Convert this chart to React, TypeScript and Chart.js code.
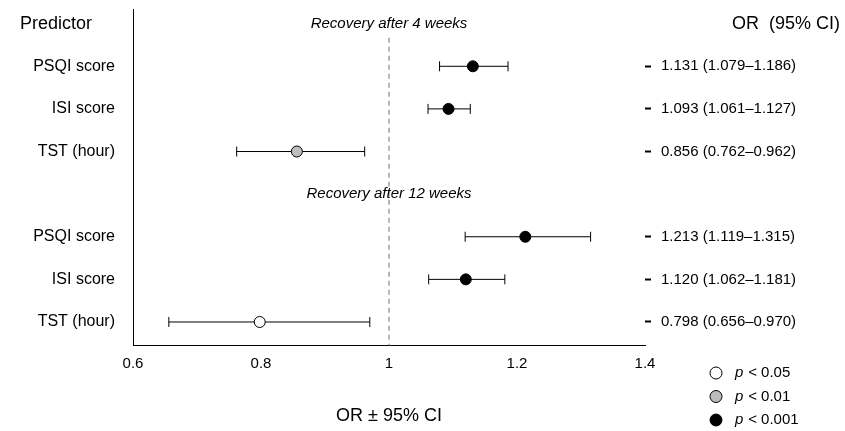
import { useEffect, useRef } from 'react';
import Chart from 'chart.js/auto';

const rowLabels = ['', 'PSQI score', 'ISI score', 'TST (hour)', '', 'PSQI score', 'ISI score', 'TST (hour)'];
const headings = ['Recovery after 4 weeks', '', '', '', 'Recovery after 12 weeks', '', '', ''];
const orValues = [null, 1.131, 1.093, 0.856, null, 1.213, 1.120, 0.798];
const ciLow = [null, 1.079, 1.061, 0.762, null, 1.119, 1.062, 0.656];
const ciHigh = [null, 1.186, 1.127, 0.962, null, 1.315, 1.181, 0.970];
const pClass = [0, 2, 2, 1, 0, 2, 2, 0];
const pColors = ['#ffffff', '#bdbdbd', '#000000'];
const legendLabels = ['< 0.05', '< 0.01', '< 0.001'];

const FONT = '"Liberation Sans", Arial, sans-serif';
const SHIFT = 18;

function fmt(i: number) {
  const v = orValues[i];
  if (v == null) return '';
  return `${v.toFixed(3)} (${ciLow[i]!.toFixed(3)}–${ciHigh[i]!.toFixed(3)})`;
}

const rowTicks = (s: any) => {
  s.ticks = rowLabels.map((_, i) => ({ value: i }));
};

export default function App() {
  const chartRef = useRef<HTMLCanvasElement | null>(null);

  useEffect(() => {
    let chart: Chart | null = null;
    const ctx = chartRef.current?.getContext('2d');
    if (!ctx) return;

    const rows = orValues.map((v, i) => i).filter((i) => orValues[i] != null);

    const extras = {
      id: 'extras',
      beforeDatasetsDraw(c: any) {
        const g = c.ctx;
        const x = c.scales.x;
        const y = c.scales.y;
        const area = c.chartArea;
        g.save();
        g.strokeStyle = '#888';
        g.lineWidth = 1.2;
        g.setLineDash([5, 4]);
        g.beginPath();
        g.moveTo(x.getPixelForValue(1), y.getPixelForValue(0) + 14);
        g.lineTo(x.getPixelForValue(1), area.bottom);
        g.stroke();
        g.setLineDash([]);
        g.strokeStyle = '#000';
        g.lineWidth = 1;
        rows.forEach((i) => {
          const py = y.getPixelForValue(i);
          const a = x.getPixelForValue(ciLow[i]!);
          const b = x.getPixelForValue(ciHigh[i]!);
          g.beginPath();
          g.moveTo(a, py); g.lineTo(b, py);
          g.moveTo(a, py - 5); g.lineTo(a, py + 5);
          g.moveTo(b, py - 5); g.lineTo(b, py + 5);
          g.stroke();
        });
        g.fillStyle = '#000';
        g.font = `italic 15px ${FONT}`;
        g.textAlign = 'center';
        g.textBaseline = 'middle';
        headings.forEach((h, i) => {
          if (h) g.fillText(h, x.getPixelForValue(1), y.getPixelForValue(i));
        });
        g.font = `18px ${FONT}`;
        g.textAlign = 'left';
        g.fillText('Predictor', 20, y.getPixelForValue(0));
        g.fillText('OR  (95% CI)', 732, y.getPixelForValue(0));
        legendLabels.forEach((l, i) => {
          const ly = 373 + SHIFT + i * 23.5;
          g.beginPath();
          g.arc(716, ly, 6, 0, Math.PI * 2);
          g.fillStyle = pColors[i];
          g.fill();
          g.strokeStyle = '#000';
          g.stroke();
          g.fillStyle = '#000';
          g.font = `italic 15px ${FONT}`;
          g.fillText('p', 735, ly);
          g.font = `15px ${FONT}`;
          g.fillText(' ' + l, 744, ly);
        });
        g.restore();
      },
    };

    chart = new Chart(ctx, {
      type: 'scatter',
      data: {
        datasets: [
          {
            data: rows.map((i) => ({ x: orValues[i]!, y: i })),
            backgroundColor: rows.map((i) => pColors[pClass[i]]),
            borderColor: '#000',
            borderWidth: 1,
            pointRadius: 5.5,
          },
        ],
      },
      options: {
        animation: false,
        responsive: true,
        maintainAspectRatio: false,
        plugins: { legend: { display: false }, tooltip: { enabled: false } },
        scales: {
          x: {
            min: 0.6,
            max: 1.4,
            ticks: {
              stepSize: 0.2,
              color: '#000',
              font: { family: FONT, size: 15 },
              callback: (v: any) => String(Math.round(Number(v) * 10) / 10),
              padding: 10,
            },
            grid: { display: false, drawTicks: false },
            border: { color: '#000', width: 1 },
            title: { display: true, text: 'OR ± 95% CI', color: '#000', font: { family: FONT, size: 18 }, padding: { top: -6 } },
            afterFit: (s: any) => { s.height = 86; },
          },
          y: {
            min: -0.33,
            max: 7.54,
            reverse: true,
            afterBuildTicks: rowTicks,
            ticks: {
              autoSkip: false,
              color: '#000',
              font: { family: FONT, size: 16 },
              padding: 18,
              callback: (v: any) => rowLabels[Number(v)] ?? '',
            },
            grid: { display: false, drawTicks: false },
            border: { color: '#000', width: 1 },
            afterFit: (s: any) => { s.width = 133; },
          },
          y2: {
            position: 'right',
            min: -0.33,
            max: 7.54,
            reverse: true,
            afterBuildTicks: rowTicks,
            ticks: {
              autoSkip: false,
              color: '#000',
              font: { family: FONT, size: 15 },
              padding: 10,
              callback: (v: any) => fmt(Number(v)),
            },
            grid: {
              drawOnChartArea: false,
              tickLength: 6,
              tickWidth: 2,
              color: (c: any) => (orValues[c.tick?.value] == null ? 'rgba(0,0,0,0)' : '#000'),
            },
            border: { display: false },
            afterFit: (s: any) => { s.width = 200; },
          },
        },
      },
      plugins: [extras],
    });

    return () => {
      if (chart) chart.destroy();
    };
  }, []);

  return (
    <div style={{ position: 'fixed', left: 0, top: -SHIFT, width: 845, height: 431 + SHIFT, background: '#fff' }}>
      <canvas ref={chartRef}></canvas>
    </div>
  );
}
